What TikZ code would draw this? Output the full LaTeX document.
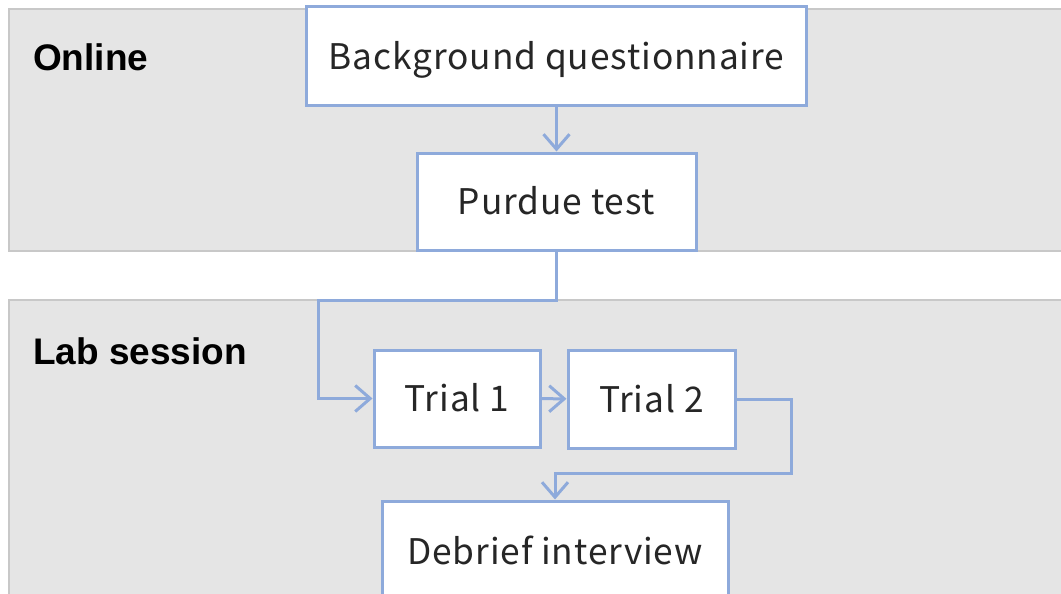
\documentclass[tikz,border=0pt]{standalone}
\usepackage{fontspec}
\setmainfont{Liberation Sans}
\newfontfamily\boxfont[LetterSpace=2.5]{Noto Sans CJK JP}
\usetikzlibrary{arrows.meta}
\definecolor{edgeblue}{HTML}{8EAADB}
\definecolor{panelfill}{HTML}{E5E5E5}
\definecolor{panelline}{HTML}{C8C8C8}
\begin{document}
\begin{tikzpicture}[x=1pt,y=-1pt,
  panel/.style={draw=panelline, fill=panelfill, line width=1.5pt},
  title/.style={font=\fontsize{37}{40}\selectfont\bfseries, inner sep=0pt},
  stepbox/.style={draw=edgeblue, fill=white, line width=3pt, inner sep=0pt,
    text height=26pt, text depth=0pt,
    font=\boxfont\fontsize{35.3}{40}\selectfont, text=black!85},
  conn/.style={draw=edgeblue, line width=3pt, -{Straight Barb[length=15pt,width=26pt,line width=3pt]}}
]
\useasboundingbox (0,0) rectangle (1061,594);
\clip (0,0) rectangle (1061,594);
\draw[panel] (9,9) rectangle (1075,251);
\draw[panel] (9,300) rectangle (1075,610);
\node[title, anchor=base west] (online) at (33,71) {Online};
\node[title, anchor=base west] (lab) at (33,364) {Lab session};
\node[stepbox, minimum width=500pt, minimum height=99pt] (bq) at (556.5,56.5) {Background questionnaire};
\node[stepbox, minimum width=279pt, minimum height=97pt] (purdue) at (556.5,201.5) {Purdue test};
\node[stepbox, minimum width=166pt, minimum height=97pt] (trial1) at (457,398.5) {Trial 1};
\node[stepbox, minimum width=167pt, minimum height=98pt] (trial2) at (651.5,399) {Trial 2};
\node[stepbox, minimum width=346pt, minimum height=100pt] (debrief) at (555,551) {Debrief interview};
\coordinate (c1) at (318,300);
\coordinate (c2) at (791,473);
\draw[conn] (bq) -- (purdue);
\draw[conn] (purdue.south) |- (c1) |- (trial1.west);
\draw[conn] (trial1) -- (trial2);
\draw[conn] (trial2.east) -| (c2) -| (debrief.north);
\end{tikzpicture}
\end{document}
